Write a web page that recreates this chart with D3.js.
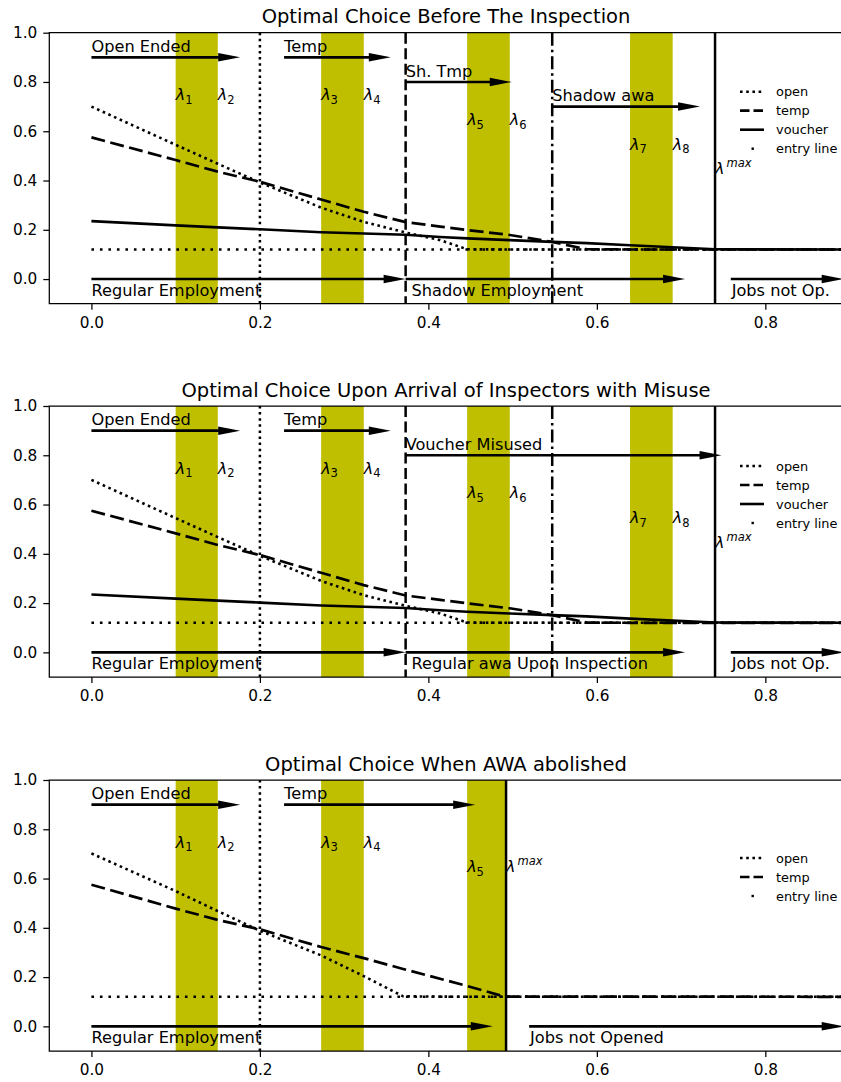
<!DOCTYPE html>
<html>
<head>
<meta charset="utf-8">
<script src="https://cdn.jsdelivr.net/npm/d3@7"></script>
<style>
  body { margin: 0; background: white; }
  svg { display: block; font-family: "DejaVu Sans", sans-serif; }
</style>
</head>
<body>
<svg id="chart" width="841" height="1082"></svg>
<script>
const xTicks = [0, 0.2, 0.4, 0.6, 0.8];
const yTicks = [0, 0.2, 0.4, 0.6, 0.8, 1.0];
const entryLevel = 0.12;

const titles = [
  'Optimal Choice Before The Inspection',
  'Optimal Choice Upon Arrival of Inspectors with Misuse',
  'Optimal Choice When AWA abolished'
];

// curves of the two panels where the voucher exists
const lambdaGrid = [0, 0.1, 0.15, 0.2, 0.2727, 0.3233, 0.373, 0.414, 0.446, 0.4966, 0.547, 0.588, 0.6394, 0.69, 0.7403, 0.893];
const openValues = [0.70, 0.545, 0.468, 0.392, 0.29, 0.232, 0.189, 0.158, 0.121, 0.12, 0.12, 0.12, 0.12, 0.12, 0.12, 0.12];
const tempValues = [0.575, 0.483, 0.436, 0.395, 0.323, 0.273, 0.231, 0.213, 0.199, 0.179, 0.151, 0.121, 0.12, 0.12, 0.12, 0.12];
const voucherValues = [0.235, 0.218, 0.21, 0.202, 0.19, 0.185, 0.18, 0.171, 0.165, 0.158, 0.151, 0.146, 0.137, 0.129, 0.121, 0.12];

// curves when awa is abolished
const lambdaGridNoAwa = [0, 0.1, 0.15, 0.2, 0.2727, 0.3233, 0.37, 0.446, 0.49, 0.893];
const openNoAwa = [0.702, 0.549, 0.468, 0.388, 0.288, 0.204, 0.122, 0.12, 0.12, 0.12];
const tempNoAwa = [0.575, 0.478, 0.432, 0.394, 0.322, 0.277, 0.233, 0.164, 0.121, 0.12];

const bands = [[0.1, 0.15], [0.2727, 0.3233], [0.446, 0.4966], [0.6394, 0.69]];
const bandsNoAwa = [[0.1, 0.15], [0.2727, 0.3233], [0.446, 0.4922]];

const cutoffs = [[0.2, 'dotted'], [0.373, 'dashed'], [0.547, 'dashdot'], [0.7403, 'solid']];
const cutoffsNoAwa = [[0.2, 'dotted'], [0.4922, 'solid']];

const lambdaLabels = [
  ['1', 0.1, 0.725], ['2', 0.15, 0.725], ['3', 0.2727, 0.725], ['4', 0.3233, 0.725],
  ['5', 0.446, 0.625], ['6', 0.4966, 0.625], ['7', 0.6394, 0.525], ['8', 0.69, 0.525],
  ['max', 0.7403, 0.425]
];
const lambdaLabelsNoAwa = [
  ['1', 0.1, 0.725], ['2', 0.15, 0.725], ['3', 0.2727, 0.725], ['4', 0.3233, 0.725],
  ['5', 0.446, 0.625], ['max', 0.4922, 0.625]
];

// [from, to, y, label, label x, label y]
const arrowsBefore = [
  [0, 0.1766, 0.9, 'Open Ended', 0, 0.922],
  [0.2287, 0.3554, 0.9, 'Temp', 0.2287, 0.922],
  [0.373, 0.499, 0.8, 'Sh. Tmp', 0.373, 0.822],
  [0.547, 0.7225, 0.7, 'Shadow awa', 0.547, 0.722],
  [0, 0.373, 0, 'Regular Employment', 0, -0.069],
  [0.373, 0.7047, 0, 'Shadow Employment', 0.38, -0.069],
  [0.759, 0.893, 0, 'Jobs not Op.', 0.76, -0.069]
];
const arrowsMisuse = [
  [0, 0.1766, 0.9, 'Open Ended', 0, 0.922],
  [0.2287, 0.3554, 0.9, 'Temp', 0.2287, 0.922],
  [0.373, 0.748, 0.8, 'Voucher Misused', 0.373, 0.822],
  [0, 0.373, 0, 'Regular Employment', 0, -0.069],
  [0.373, 0.7047, 0, 'Regular awa Upon Inspection', 0.38, -0.069],
  [0.759, 0.893, 0, 'Jobs not Op.', 0.76, -0.069]
];
const arrowsNoAwa = [
  [0, 0.1766, 0.9, 'Open Ended', 0, 0.922],
  [0.2287, 0.4556, 0.9, 'Temp', 0.2287, 0.922],
  [0, 0.4765, 0, 'Regular Employment', 0, -0.069],
  [0.5196, 0.893, 0, 'Jobs not Opened', 0.5207, -0.069]
];

const legendFull = ['open', 'temp', 'voucher', 'entry line'];
const legendNoAwa = ['open', 'temp', 'entry line'];

const dashes = {dotted: '2.5,3.6', dashed: '11,4.5', dashdot: '13,4,2.5,4', solid: null};
const curveStyle = {
  open: {dash: '2.6,3.6', width: 2.6},
  temp: {dash: '14,5.5', width: 2.7},
  voucher: {dash: null, width: 2.6}
};

const svg = d3.select('#chart');
const axHeight = 271;
const x = d3.scaleLinear().domain([-0.05, 0.891]).range([49.3, 842]);

function drawArrow(g, y, a) {
  const headLen = 22, headW = 8.5;
  let x0 = x(a[0]), x1 = x(a[1]), yy = y(a[2]);
  g.append('line')
    .attr('x1', x0).attr('x2', x1 - headLen + 2)
    .attr('y1', yy).attr('y2', yy)
    .attr('stroke', 'black').attr('stroke-width', 2.6);
  g.append('path')
    .attr('d', `M${x1},${yy} L${x1 - headLen},${yy - headW / 2} L${x1 - headLen},${yy + headW / 2} Z`)
    .attr('fill', 'black');
  g.append('text')
    .attr('x', x(a[4])).attr('y', y(a[5]))
    .attr('font-size', 16.2)
    .text(a[3]);
}

function drawLambda(g, y, d) {
  let t = g.append('text')
    .attr('x', x(d[1])).attr('y', y(d[2]))
    .attr('font-size', 16);
  t.append('tspan').attr('font-style', 'italic').text('λ');
  if (d[0] === 'max') {
    t.append('tspan').attr('font-size', 11.5).attr('font-style', 'italic')
      .attr('dx', 2).attr('dy', -7).text('max');
  } else {
    t.append('tspan').attr('font-size', 11.5).attr('dy', 3.5).text(d[0]);
  }
}

function drawPanel(p) {
  const y = d3.scaleLinear().domain([-0.1, 1.0]).range([p.top + axHeight, p.top]);
  const g = svg.append('g');

  g.selectAll('rect.band').data(p.bands).join('rect')
    .attr('class', 'band')
    .attr('x', d => x(d[0]))
    .attr('width', d => x(d[1]) - x(d[0]))
    .attr('y', y(1))
    .attr('height', y(-0.1) - y(1))
    .attr('fill', '#bfbf00');

  // entry line
  g.append('line')
    .attr('x1', x(0)).attr('x2', x(0.893))
    .attr('y1', y(entryLevel)).attr('y2', y(entryLevel))
    .attr('stroke', 'black').attr('stroke-width', 2.6)
    .attr('stroke-dasharray', '2.6,5.9');

  for (let c of p.curves) {
    let line = d3.line()
      .x((d, i) => x(c.grid[i]))
      .y(d => y(d));
    g.append('path')
      .attr('d', line(c.values))
      .attr('fill', 'none')
      .attr('stroke', 'black')
      .attr('stroke-width', curveStyle[c.name].width)
      .attr('stroke-dasharray', curveStyle[c.name].dash);
  }

  for (let a of p.arrows) {
    drawArrow(g, y, a);
  }

  for (let c of p.cutoffs) {
    g.append('line')
      .attr('x1', x(c[0])).attr('x2', x(c[0]))
      .attr('y1', y(1)).attr('y2', y(-0.1))
      .attr('stroke', 'black').attr('stroke-width', 2.5)
      .attr('stroke-dasharray', dashes[c[1]]);
  }

  for (let d of p.lambdas) {
    drawLambda(g, y, d);
  }

  // legend, no frame
  let lg = g.append('g');
  p.legend.forEach((name, i) => {
    let cy = p.top + p.legendOffset + i * 19;
    if (name === 'entry line') {
      lg.append('rect')
        .attr('x', 751.5).attr('y', cy - 1.2)
        .attr('width', 2.4).attr('height', 2.4)
        .attr('fill', 'black');
    } else {
      lg.append('line')
        .attr('x1', 740).attr('x2', 764)
        .attr('y1', cy).attr('y2', cy)
        .attr('stroke', 'black')
        .attr('stroke-width', curveStyle[name].width)
        .attr('stroke-dasharray', name === 'temp' ? '9.5,4' : curveStyle[name].dash);
    }
    lg.append('text')
      .attr('x', 776).attr('y', cy + 4.5)
      .attr('font-size', 12.9)
      .text(name);
  });

  // axes
  let ay = g.append('g')
    .attr('transform', `translate(${x(-0.05)},0)`)
    .call(d3.axisLeft(y).tickValues(yTicks).tickFormat(d3.format('.1f')).tickSize(6).tickPadding(6));
  let ax = g.append('g')
    .attr('transform', `translate(0,${y(-0.1)})`)
    .call(d3.axisBottom(x).tickValues(xTicks).tickFormat(d3.format('.1f')).tickSize(6).tickPadding(7.5));
  for (let a of [ay, ax]) {
    a.select('.domain').remove();
    a.selectAll('line').attr('stroke', 'black').attr('stroke-width', 1.25);
    a.selectAll('text').attr('font-size', 15.3).attr('font-family', '"DejaVu Sans", sans-serif').attr('fill', 'black');
  }

  g.append('path')
    .attr('d', `M${x(0.891)},${y(1)} H${x(-0.05)} V${y(-0.1)} H${x(0.891)}`)
    .attr('fill', 'none')
    .attr('stroke', 'black')
    .attr('stroke-width', 1.25);

  g.append('text')
    .attr('x', 446).attr('y', p.top - 9.5)
    .attr('text-anchor', 'middle')
    .attr('font-size', 19.5)
    .text(p.title);
}

const fullCurves = [
  {name: 'open', grid: lambdaGrid, values: openValues},
  {name: 'temp', grid: lambdaGrid, values: tempValues},
  {name: 'voucher', grid: lambdaGrid, values: voucherValues}
];

drawPanel({top: 32.7, title: titles[0], bands: bands, curves: fullCurves, arrows: arrowsBefore,
  cutoffs: cutoffs, lambdas: lambdaLabels, legend: legendFull, legendOffset: 59});
drawPanel({top: 406, title: titles[1], bands: bands, curves: fullCurves, arrows: arrowsMisuse,
  cutoffs: cutoffs, lambdas: lambdaLabels, legend: legendFull, legendOffset: 60});
drawPanel({top: 780, title: titles[2], bands: bandsNoAwa,
  curves: [
    {name: 'open', grid: lambdaGridNoAwa, values: openNoAwa},
    {name: 'temp', grid: lambdaGridNoAwa, values: tempNoAwa}
  ],
  arrows: arrowsNoAwa, cutoffs: cutoffsNoAwa, lambdas: lambdaLabelsNoAwa, legend: legendNoAwa, legendOffset: 78});
</script>
</body>
</html>
